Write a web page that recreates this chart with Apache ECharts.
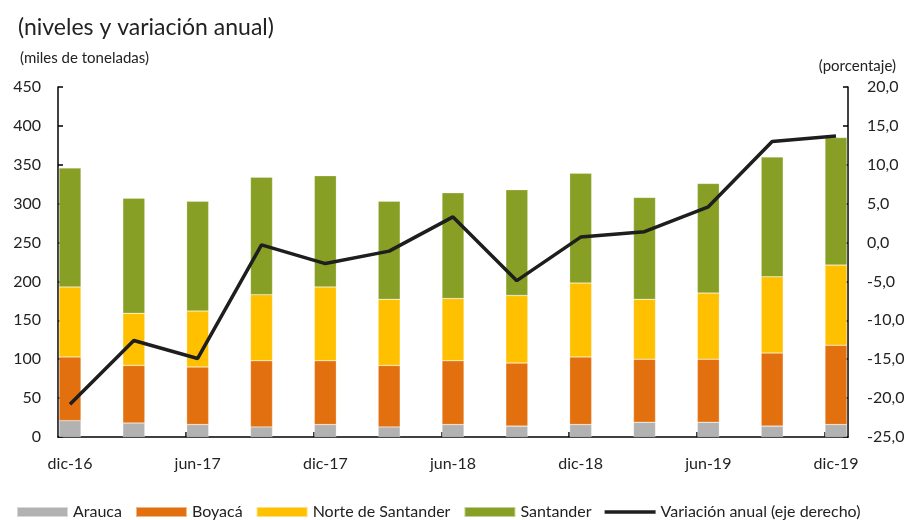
<!DOCTYPE html>
<html>
<head>
    <meta charset="utf-8">
    <title>ECharts</title>
    <script src="https://cdn.jsdelivr.net/npm/echarts@6/dist/echarts.min.js"></script>
    <style>
        body { margin: 0; background: #fff; }
    </style>
</head>
<body>
    <div id="main" style="width: 913px;height:520px;"></div>
    <script type="text/javascript">
        // categorias (trimestres)
        var categories = ['dic-16', 'mar-17', 'jun-17', 'sep-17', 'dic-17', 'mar-18', 'jun-18',
                          'sep-18', 'dic-18', 'mar-19', 'jun-19', 'sep-19', 'dic-19'];
        // miles de toneladas
        var arauca    = [21, 18, 16, 13, 16, 13, 16, 14, 16, 19, 19, 14, 16];
        var boyaca    = [82, 74, 74, 85, 82, 79, 82, 81, 87, 81, 81, 94, 102];
        var norte     = [90, 67, 72, 85, 95, 85, 80, 87, 95, 77, 85, 98, 103];
        var santander = [153, 148, 141, 151, 143, 126, 136, 136, 141, 131, 141, 154, 164];
        // porcentaje (eje derecho)
        var variacion = [-20.8, -12.6, -14.9, -0.3, -2.7, -1.1, 3.3, -4.9, 0.7, 1.4, 4.6, 13.0, 13.7];

        var font = 'Lato';
        var negro = { color: '#000', width: 1.5 };

        function barra(name, arr, color) {
            return {
                name: name,
                type: 'bar',
                stack: 'total',
                barWidth: 22,
                data: arr,
                itemStyle: { color: color, borderColor: 'rgba(255,255,255,0.5)', borderWidth: 0.5 }
            };
        }

        var myChart = echarts.init(document.getElementById('main'));
        var option = {
            animation: false,
            textStyle: { fontFamily: font, color: '#222' },
            title: [
                { text: '(niveles y variación anual)', left: 13, top: 11,
                  textStyle: { fontSize: 23, fontWeight: 'normal', color: '#222', fontFamily: font } },
                { text: '(miles de toneladas)', left: 15, top: 46,
                  textStyle: { fontSize: 15, fontWeight: 'normal', color: '#222', fontFamily: font } },
                { text: '(porcentaje)', right: 12, top: 54,
                  textStyle: { fontSize: 15, fontWeight: 'normal', color: '#222', fontFamily: font } }
            ],
            legend: {
                left: 11, top: 499,
                itemWidth: 51, itemHeight: 10, itemGap: 13,
                textStyle: { fontSize: 16, color: '#222', fontFamily: font },
                data: [
                    { name: 'Arauca', icon: 'rect' },
                    { name: 'Boyacá', icon: 'rect' },
                    { name: 'Norte de Santander', icon: 'rect' },
                    { name: 'Santander', icon: 'rect' },
                    { name: 'Variación anual (eje derecho)', icon: 'path://M0,0 H51 V3.5 H0 Z' }
                ]
            },
            // grid 0: marcas (categorias), grid 1: ejes visibles
            grid: [
                { left: 38.08, right: 45.08, top: 87, bottom: 83 },
                { left: 58, right: 65, top: 87, bottom: 83 }
            ],
            xAxis: [
                {
                    type: 'category', gridIndex: 0, data: categories,
                    axisLine: { show: false }, axisTick: { show: false }, axisLabel: { show: false }
                },
                {
                    type: 'value', gridIndex: 1, min: -0.188, max: 12.188,
                    splitLine: { show: false },
                    axisLine: { onZero: false, lineStyle: negro },
                    axisTick: { inside: true, length: 5, lineStyle: negro,
                                customValues: [1.82, 3.82, 5.82, 7.82, 9.82, 11.83] },
                    axisLabel: {
                        customValues: [0, 2, 4, 6, 8, 10, 12],
                        margin: 19, fontSize: 16, color: '#222',
                        formatter: function (v) { return categories[Math.round(v)]; }
                    }
                }
            ],
            yAxis: [
                { type: 'value', gridIndex: 0, min: 0, max: 450, interval: 50, show: false },
                { type: 'value', gridIndex: 0, min: -25, max: 20, interval: 5, show: false },
                {
                    type: 'value', gridIndex: 1, min: 0, max: 450, interval: 50,
                    splitLine: { show: false },
                    axisLine: { show: true, onZero: false, lineStyle: negro },
                    axisTick: { show: true, inside: true, length: 5, lineStyle: negro },
                    axisLabel: { fontSize: 16, color: '#222', margin: 17 }
                },
                {
                    type: 'value', gridIndex: 1, position: 'right', min: -25, max: 20, interval: 5,
                    splitLine: { show: false },
                    axisLine: { show: true, onZero: false, lineStyle: negro },
                    axisTick: { show: true, inside: true, length: 5, lineStyle: negro },
                    axisLabel: { fontSize: 16, color: '#222', margin: 19,
                        formatter: function (v) { return v.toFixed(1).replace('.', ','); } }
                }
            ],
            series: [
                barra('Arauca', arauca, '#b2b2b2'),
                barra('Boyacá', boyaca, '#e3700e'),
                barra('Norte de Santander', norte, '#ffc000'),
                barra('Santander', santander, '#879f24'),
                {
                    name: 'Variación anual (eje derecho)',
                    type: 'line',
                    yAxisIndex: 1,
                    data: variacion,
                    symbol: 'none',
                    z: 5,
                    lineStyle: { color: '#1e1e1e', width: 3.5 },
                    itemStyle: { color: '#1e1e1e' }
                }
            ]
        };
        myChart.setOption(option);
    </script>
</body>
</html>
